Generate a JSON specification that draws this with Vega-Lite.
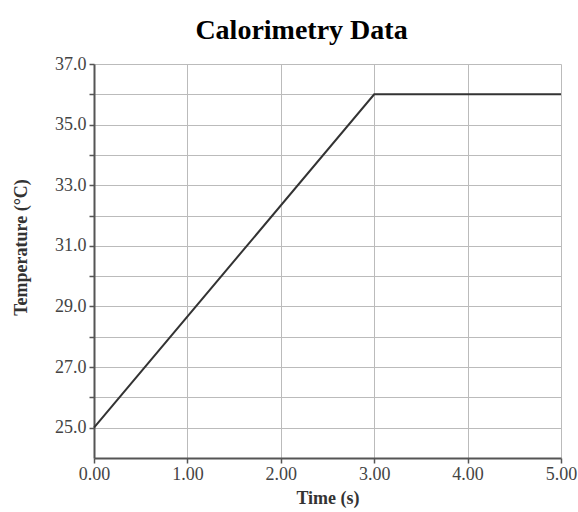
{
  "$schema": "https://vega.github.io/schema/vega-lite/v6.json",
  "autosize": {"type": "none"},
  "padding": {"left": 94, "top": 64, "right": 17, "bottom": 54},
  "width": 467,
  "height": 394,
  "title": {
    "text": "Calorimetry Data",
    "font": "Liberation Serif",
    "fontSize": 28,
    "fontWeight": "bold",
    "color": "#000",
    "anchor": "middle",
    "dx": -26,
    "offset": 10
  },
  "config": {
    "view": {"stroke": null},
    "axis": {
      "labelFont": "Liberation Serif",
      "labelFontSize": 18,
      "labelColor": "#444",
      "titleFont": "Liberation Serif",
      "titleFontSize": 18,
      "titleFontWeight": "bold",
      "titleColor": "#333",
      "domainColor": "#555",
      "domainWidth": 2,
      "tickColor": "#555",
      "tickWidth": 1.5,
      "tickSize": 5,
      "gridColor": "#bbb",
      "gridWidth": 1,
      "gridOpacity": 1,
      "labelFlush": false
    }
  },
  "data": {
    "values": [
      {"time": 0, "temp": 25.0},
      {"time": 3, "temp": 36.0},
      {"time": 5, "temp": 36.0}
    ]
  },
  "mark": {"type": "line", "color": "#333", "strokeWidth": 2},
  "encoding": {
    "x": {
      "field": "time",
      "type": "quantitative",
      "scale": {"domain": [0, 5], "nice": false},
      "axis": {
        "title": "Time (s)",
        "values": [0, 1, 2, 3, 4, 5],
        "format": ".2f",
        "labelPadding": 2,
        "titlePadding": 6
      }
    },
    "y": {
      "field": "temp",
      "type": "quantitative",
      "scale": {"domain": [24, 37], "nice": false, "zero": false},
      "axis": {
        "title": "Temperature (°C)",
        "titleY": 183,
        "values": [25, 26, 27, 28, 29, 30, 31, 32, 33, 34, 35, 36, 37],
        "labelExpr": "datum.value % 2 == 1 ? format(datum.value, '.1f') : ''",
        "labelPadding": 3,
        "titlePadding": 24
      }
    }
  }
}
